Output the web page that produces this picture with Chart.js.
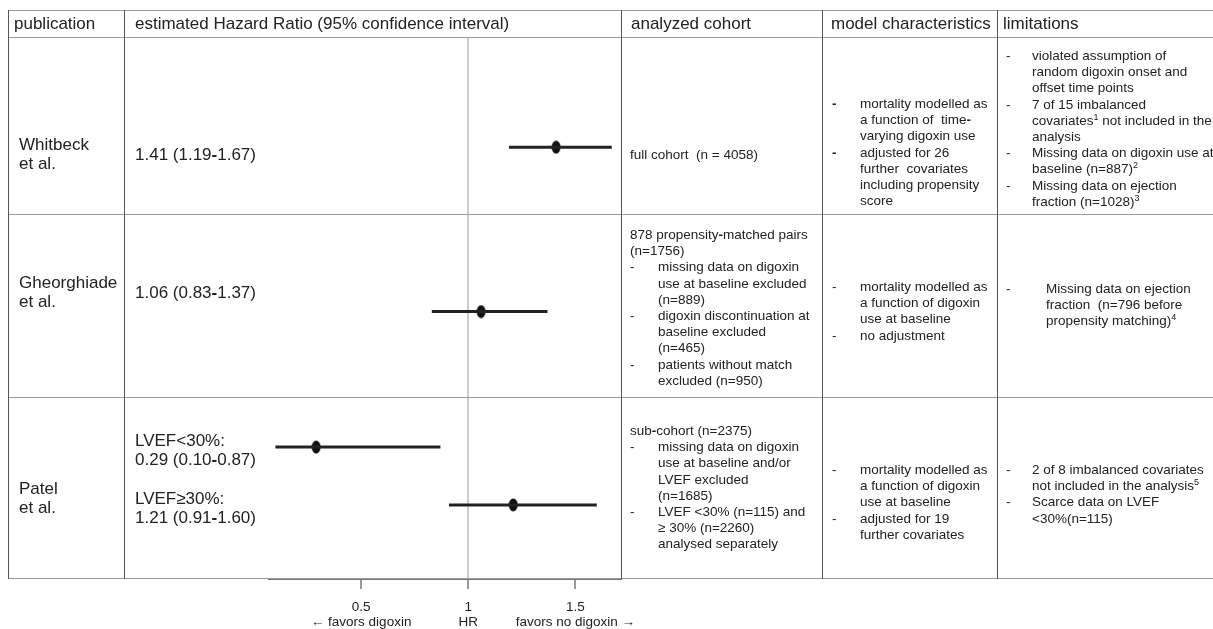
<!DOCTYPE html>
<html>
<head>
<meta charset="utf-8">
<title>Digoxin hazard ratios</title>
<script src="https://cdn.jsdelivr.net/npm/chart.js@4.4.1/dist/chart.umd.min.js"></script>
<style>
  html, body { margin: 0; padding: 0; background: #fff; }
  body { width: 1213px; height: 629px; overflow: hidden; position: relative;
         font-family: "Liberation Sans", Arial, sans-serif; color: #222; }
  #plot { position: absolute; left: 0; top: 0; }
  .hl { position: absolute; left: 8px; width: 1205px; height: 1px; background: #9a9a9a; }
  .vl { position: absolute; top: 10px; height: 569px; width: 1px; background: #555; }
  .cell { position: absolute; white-space: nowrap; }
  .head { display: flex; align-items: center; top: 10px; height: 27px; font-size: 17px; }
  .big { font-size: 17px; line-height: 18.5px; }
  .small { font-size: 13.5px; line-height: 16.2px; }
  .item { position: relative; }
  .item::before { content: "-"; position: absolute; left: 0; }
  .bold .item::before { font-weight: bold; }
  .c3 .item { padding-left: 28px; }
  .c4 .item { padding-left: 28px; }
  .c5 .item { padding-left: 26px; }
  .c5.wide .item { padding-left: 40px; }
  b { font-weight: bold; }
  sup { font-size: 9px; line-height: 0; vertical-align: 5px; }
</style>
</head>
<body>
<canvas id="plot" width="1213" height="629"></canvas>

<!-- table lines -->
<div class="hl" style="top:10px"></div>
<div class="hl" style="top:37px"></div>
<div class="hl" style="top:214px"></div>
<div class="hl" style="top:397px"></div>
<div class="hl" style="top:578px"></div>
<div class="vl" style="left:8px"></div>
<div class="vl" style="left:124px"></div>
<div class="vl" style="left:621px"></div>
<div class="vl" style="left:822px"></div>
<div class="vl" style="left:997px"></div>

<!-- header -->
<div class="cell head" style="left:14px">publication</div>
<div class="cell head" style="left:135px">estimated Hazard Ratio (95% confidence interval)</div>
<div class="cell head" style="left:631px">analyzed cohort</div>
<div class="cell head" style="left:831px">model characteristics</div>
<div class="cell head" style="left:1003px">limitations</div>

<!-- row 1 -->
<div class="cell big" style="left:19px;top:136px">Whitbeck<br>et al.</div>
<div class="cell big" style="left:135px;top:146px" id="hr0"></div>
<div class="cell small" style="left:630px;top:147px">full cohort&nbsp; (n = 4058)</div>
<div class="cell small c4 bold" style="left:832px;top:96px">
  <div class="item">mortality modelled as<br>a function of&nbsp; time<b>-</b><br>varying digoxin use</div>
  <div class="item">adjusted for 26<br>further&nbsp; covariates<br>including propensity<br>score</div>
</div>
<div class="cell small c5" style="left:1006px;top:48px">
  <div class="item">violated assumption of<br>random digoxin onset and<br>offset time points</div>
  <div class="item">7 of 15 imbalanced<br>covariates<sup>1</sup> not included in the<br>analysis</div>
  <div class="item">Missing data on digoxin use at<br>baseline (n=887)<sup>2</sup></div>
  <div class="item">Missing data on ejection<br>fraction (n=1028)<sup>3</sup></div>
</div>

<!-- row 2 -->
<div class="cell big" style="left:19px;top:274px">Gheorghiade<br>et al.</div>
<div class="cell big" style="left:135px;top:284px" id="hr1"></div>
<div class="cell small c3" style="left:630px;top:227px">
  <div>878 propensity<b>-</b>matched pairs<br>(n=1756)</div>
  <div class="item">missing data on digoxin<br>use at baseline excluded<br>(n=889)</div>
  <div class="item">digoxin discontinuation at<br>baseline excluded<br>(n=465)</div>
  <div class="item">patients without match<br>excluded (n=950)</div>
</div>
<div class="cell small c4" style="left:832px;top:279px">
  <div class="item">mortality modelled as<br>a function of digoxin<br>use at baseline</div>
  <div class="item">no adjustment</div>
</div>
<div class="cell small c5 wide" style="left:1006px;top:281px">
  <div class="item">Missing data on ejection<br>fraction&nbsp; (n=796 before<br>propensity matching)<sup>4</sup></div>
</div>

<!-- row 3 -->
<div class="cell big" style="left:19px;top:480px">Patel<br>et al.</div>
<div class="cell big" style="left:135px;top:432px">
  <div>LVEF&lt;30%:</div><div id="hr2"></div>
  <div style="height:21px"></div>
  <div>LVEF≥30%:</div><div id="hr3"></div>
</div>
<div class="cell small c3" style="left:630px;top:423px">
  <div>sub<b>-</b>cohort (n=2375)</div>
  <div class="item">missing data on digoxin<br>use at baseline and/or<br>LVEF excluded<br>(n=1685)</div>
  <div class="item">LVEF &lt;30% (n=115) and<br>≥ 30% (n=2260)<br>analysed separately</div>
</div>
<div class="cell small c4" style="left:832px;top:462px">
  <div class="item">mortality modelled as<br>a function of digoxin<br>use at baseline</div>
  <div class="item">adjusted for 19<br>further covariates</div>
</div>
<div class="cell small c5" style="left:1006px;top:462px">
  <div class="item">2 of 8 imbalanced covariates<br>not included in the analysis<sup>5</sup></div>
  <div class="item">Scarce data on LVEF<br>&lt;30%(n=115)</div>
</div>

<script>
// estimates per study (Patel split by LVEF)
const studies = ['Whitbeck et al.', 'Gheorghiade et al.', 'Patel et al. LVEF<30%', 'Patel et al. LVEF≥30%'];
const hazardRatio = [1.41, 1.06, 0.29, 1.21];
const ciLow = [1.19, 0.83, 0.10, 0.91];
const ciHigh = [1.67, 1.37, 0.87, 1.60];
// where each estimate sits in the table rows (0 = top of first row, 3 = bottom of last row)
const rowPos = [0.61, 1.52, 2.27, 2.59];

const xTickValues = [0.5, 1, 1.5];
const xTickLabels = [['0.5', '← favors digoxin'], ['1', 'HR'], ['1.5', 'favors no digoxin →']];

// HR text in the table (hyphen drawn bold like the original)
hazardRatio.forEach((v, i) => {
    document.getElementById('hr' + i).innerHTML =
        v.toFixed(2) + ' (' + ciLow[i].toFixed(2) + '<b>-</b>' + ciHigh[i].toFixed(2) + ')';
});

// slightly tall ellipse like the original markers
function ellipseMarker() {
    const c = document.createElement('canvas');
    c.width = 10;
    c.height = 14;
    const g = c.getContext('2d');
    g.fillStyle = '#111';
    g.beginPath();
    g.ellipse(5, 7, 4.5, 6.5, 0, 0, Math.PI * 2);
    g.fill();
    return c;
}

const datasets = hazardRatio.map((v, i) => ({
    label: studies[i] + ' CI',
    data: [{ x: ciLow[i], y: rowPos[i] }, { x: ciHigh[i], y: rowPos[i] }],
    showLine: true,
    borderColor: '#222',
    borderWidth: 3,
    pointRadius: 0
}));
datasets.push({
    label: 'HR',
    data: hazardRatio.map((v, i) => ({ x: v, y: rowPos[i] })),
    pointStyle: ellipseMarker(),
    showLine: false
});

const context = document.getElementById('plot').getContext('2d');
new Chart(context, {
    type: 'scatter',
    data: { datasets },
    options: {
        responsive: false,
        animation: false,
        devicePixelRatio: 1,
        layout: { padding: { left: 269, right: 592, top: 37, bottom: 0 } },
        plugins: { legend: { display: false }, tooltip: { enabled: false } },
        scales: {
            x: {
                type: 'linear',
                min: 0.07,
                max: 1.713,
                afterBuildTicks: s => { s.ticks = xTickValues.map(v => ({ value: v })); },
                afterFit: s => { s.height = 50; },
                grid: {
                    color: c => (c.tick && c.tick.value === 1) ? '#cccccc' : 'rgba(0,0,0,0)',
                    lineWidth: 2,
                    tickLength: 10,
                    tickColor: '#777',
                    tickWidth: 1.5
                },
                border: { display: true, color: '#777', width: 2 },
                ticks: {
                    color: '#222',
                    font: { family: 'Liberation Sans', size: 13.5, lineHeight: 1.1 },
                    padding: 11,
                    maxRotation: 0,
                    autoSkip: false,
                    callback: (v, i) => xTickLabels[i]
                }
            },
            y: { type: 'linear', min: 0, max: 3, reverse: true, display: false }
        }
    }
});
</script>
</body>
</html>
